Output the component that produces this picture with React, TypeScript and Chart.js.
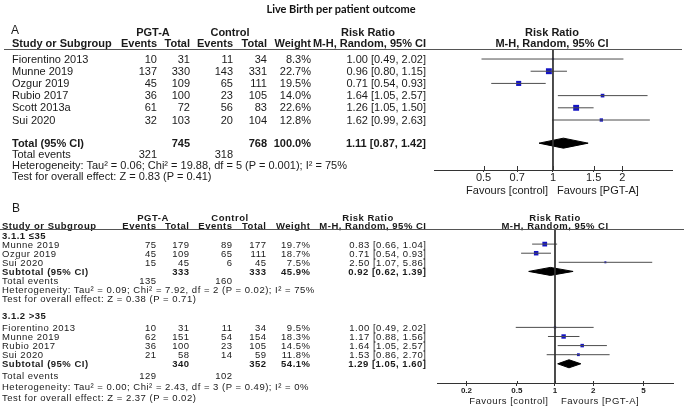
import React, { useEffect, useRef } from 'react';
import { Chart, registerables } from 'chart.js';
Chart.register(...registerables);

// ---------- data ----------
const title = 'Live Birth per patient outcome';

const studiesA = ['Fiorentino 2013', 'Munne 2019', 'Ozgur 2019', 'Rubio 2017', 'Scott 2013a', 'Sui 2020'];
const pgtEventsA = [10, 137, 45, 36, 61, 32];
const pgtTotalA = [31, 330, 109, 100, 72, 103];
const ctlEventsA = [11, 143, 65, 23, 56, 20];
const ctlTotalA = [34, 331, 111, 105, 83, 104];
const weightA = [8.3, 22.7, 19.5, 14.0, 22.6, 12.8];
const rrA = [1.0, 0.96, 0.71, 1.64, 1.26, 1.62];
const loA = [0.49, 0.8, 0.54, 1.05, 1.05, 0.99];
const hiA = [2.02, 1.15, 0.93, 2.57, 1.5, 2.63];
const pooledA = [1.11, 0.87, 1.42];
const totalsA = [745, 768];
const eventsA = [321, 318];
const hetA = 'Heterogeneity: Tau² = 0.06; Chi² = 19.88, df = 5 (P = 0.001); I² = 75%';
const testA = 'Test for overall effect: Z = 0.83 (P = 0.41)';
const ticksA = [0.5, 0.7, 1, 1.5, 2];

const groupB1 = '3.1.1 ≤35';
const studiesB1 = ['Munne 2019', 'Ozgur 2019', 'Sui 2020'];
const pgtEventsB1 = [75, 45, 15];
const pgtTotalB1 = [179, 109, 45];
const ctlEventsB1 = [89, 65, 6];
const ctlTotalB1 = [177, 111, 45];
const weightB1 = [19.7, 18.7, 7.5];
const rrB1 = [0.83, 0.71, 2.5];
const loB1 = [0.66, 0.54, 1.07];
const hiB1 = [1.04, 0.93, 5.86];
const pooledB1 = [0.92, 0.62, 1.39];
const totalsB1 = [333, 333];
const subWeightB1 = 45.9;
const eventsB1 = [135, 160];
const hetB1 = 'Heterogeneity: Tau² = 0.09; Chi² = 7.92, df = 2 (P = 0.02); I² = 75%';
const testB1 = 'Test for overall effect: Z = 0.38 (P = 0.71)';

const groupB2 = '3.1.2 >35';
const studiesB2 = ['Fiorentino 2013', 'Munne 2019', 'Rubio 2017', 'Sui 2020'];
const pgtEventsB2 = [10, 62, 36, 21];
const pgtTotalB2 = [31, 151, 100, 58];
const ctlEventsB2 = [11, 54, 23, 14];
const ctlTotalB2 = [34, 154, 105, 59];
const weightB2 = [9.5, 18.3, 14.5, 11.8];
const rrB2 = [1.0, 1.17, 1.64, 1.53];
const loB2 = [0.49, 0.88, 1.05, 0.86];
const hiB2 = [2.02, 1.56, 2.57, 2.7];
const pooledB2 = [1.29, 1.05, 1.6];
const totalsB2 = [340, 352];
const subWeightB2 = 54.1;
const eventsB2 = [129, 102];
const hetB2 = 'Heterogeneity: Tau² = 0.00; Chi² = 2.43, df = 3 (P = 0.49); I² = 0%';
const testB2 = 'Test for overall effect: Z = 2.37 (P = 0.02)';
const ticksB = [0.2, 0.5, 1, 2, 5];

// ---------- layout ----------
const W = 684;
const H = 408;
const SANS = '"Liberation Sans", Arial, Helvetica, sans-serif';

type F = { size: number; ls: number; lh: number };
const FA: F = { size: 11, ls: 0, lh: 11 };
const FB: F = { size: 9.5, ls: 0.5, lh: 9 };

const fmtRR = (r: number, l: number, h: number) => `${r.toFixed(2)} [${l.toFixed(2)}, ${h.toFixed(2)}]`;
const fmtW = (w: number) => `${w.toFixed(1)}%`;

// panel A geometry
const A_TOP = 50, A_BOT = 170, A_YMIN = -0.74, A_YMAX = 9.1, A_TOTAL = 6.9;
const pyA = (v: number) => A_TOP + ((v - A_YMIN) / (A_YMAX - A_YMIN)) * (A_BOT - A_TOP);
// panel B geometry
const B_TOP = 230, B_BOT = 383, B_YMIN = 0, B_YMAX = 16.81;
const pyB = (v: number) => B_TOP + ((v - B_YMIN) / (B_YMAX - B_YMIN)) * (B_BOT - B_TOP);
const rowsB1 = [1.55, 2.55, 3.55];
const subB1 = 4.55;
const rowsB2 = [10.7, 11.7, 12.7, 13.7];
const subB2 = 14.7;

function T(props: { x: number; y: number; t: string | number; a?: 'l' | 'r' | 'c'; b?: boolean; f?: F; fam?: string; size?: number; c?: string }) {
  const { x, y, t, a = 'l', b = false, f = FA, fam = SANS, c = '#1a1a1a' } = props;
  const size = props.size ?? f.size;
  const lh = f.lh;
  const s: React.CSSProperties = {
    position: 'absolute',
    top: y - lh / 2,
    height: lh,
    lineHeight: lh + 'px',
    fontSize: size,
    fontFamily: fam,
    fontWeight: b ? 700 : 400,
    letterSpacing: f.ls,
    whiteSpace: 'nowrap',
    color: c,
  };
  if (a === 'l') s.left = x;
  else if (a === 'r') s.right = W - x - f.ls;
  else {
    s.left = x;
    s.transform = 'translateX(-50%)';
  }
  return <div style={s}>{t}</div>;
}

type Row = { rr: number; lo: number; hi: number; w: number; y: number };
type Pool = { rr: number; lo: number; hi: number; y: number };

type FP = {
  top: number; height: number;
  pad: { left: number; right: number; top: number; bottom: number };
  xMin: number; xMax: number; yMin: number; yMax: number;
  ticks: number[]; tickFont: any; tickLen: number; tickUp: number; tickPad: number; axisH: number;
  rows: Row[]; pools: Pool[]; sq: number; dh: number;
};

function Forest(p: FP) {
  const ref = useRef<HTMLCanvasElement>(null);
  useEffect(() => {
    const ds: any[] = [];
    ds.push({
      data: [{ x: 1, y: p.yMin }, { x: 1, y: p.yMax }],
      showLine: true, borderColor: '#333', borderWidth: 1, pointRadius: 0,
    });
    p.rows.forEach((r) =>
      ds.push({
        data: [{ x: r.lo, y: r.y }, { x: r.hi, y: r.y }],
        showLine: true, borderColor: '#4d4d4d', borderWidth: 1, pointRadius: 0,
      })
    );
    ds.push({
      data: p.rows.map((r) => ({ x: r.rr, y: r.y })),
      showLine: false,
      pointStyle: 'rect',
      pointRadius: p.rows.map((r) => Math.max(2, r.w * p.sq) / Math.SQRT2),
      backgroundColor: '#1414c4',
      borderWidth: 0,
    });
    p.pools.forEach((q) =>
      ds.push({
        data: [
          { x: q.lo, y: q.y }, { x: q.rr, y: q.y - p.dh }, { x: q.hi, y: q.y },
          { x: q.rr, y: q.y + p.dh }, { x: q.lo, y: q.y },
        ],
        showLine: true, fill: 'shape', backgroundColor: '#000', borderColor: '#000',
        borderWidth: 1, pointRadius: 0, tension: 0,
      })
    );
    const upTicks = {
      id: 'upTicks',
      afterDraw(chart: any) {
        const s = chart.scales.x;
        const ctx = chart.ctx;
        ctx.save();
        ctx.strokeStyle = '#333';
        ctx.lineWidth = 1;
        ctx.beginPath();
        s.ticks.forEach((t: any) => {
          const px = Math.round(s.getPixelForValue(t.value)) + 0.5;
          ctx.moveTo(px, s.top - p.tickUp);
          ctx.lineTo(px, s.top);
        });
        ctx.stroke();
        ctx.restore();
      },
    };
    const chart = new Chart(ref.current as HTMLCanvasElement, {
      type: 'scatter',
      data: { datasets: ds },
      options: {
        animation: false,
        responsive: false,
        devicePixelRatio: 1,
        events: [],
        layout: { padding: p.pad },
        plugins: { legend: { display: false }, tooltip: { enabled: false } },
        scales: {
          x: {
            type: 'logarithmic',
            min: p.xMin,
            max: p.xMax,
            bounds: 'data',
            afterBuildTicks: (s: any) => {
              s.ticks = p.ticks.map((v) => ({ value: v }));
            },
            afterFit: (s: any) => {
              s.height = p.axisH;
            },
            grid: { drawOnChartArea: false, drawTicks: true, tickLength: p.tickLen, color: '#333', lineWidth: 1 },
            border: { display: true, color: '#333', width: 1 },
            ticks: {
              font: p.tickFont,
              color: '#1a1a1a',
              padding: p.tickPad,
              maxRotation: 0,
              autoSkip: false,
              callback: (v: any) => String(v),
            },
          },
          y: { type: 'linear', reverse: true, min: p.yMin, max: p.yMax, display: false },
        },
      } as any,
      plugins: [upTicks],
    });
    return () => chart.destroy();
  }, []);
  return (
    <canvas
      ref={ref}
      width={W}
      height={p.height}
      style={{ position: 'absolute', left: 0, top: p.top, width: W, height: p.height }}
    />
  );
}

const colA = { name: 12, pe: 157, pt: 190, ce: 233, ct: 267, w: 311, rr: 426, plot: 552 };
const colB = { name: 2, pe: 156, pt: 189, ce: 232, ct: 266, w: 310, rr: 426, plot: 555 };

function StudyRows(props: { names: string[]; pe: number[]; pt: number[]; ce: number[]; ct: number[]; w: number[]; rr: number[]; lo: number[]; hi: number[]; ys: number[]; col: typeof colA; f: F }) {
  const { names, pe, pt, ce, ct, w, rr, lo, hi, ys, col, f } = props;
  return (
    <>
      {names.map((n, i) => (
        <React.Fragment key={n + i}>
          <T x={col.name} y={ys[i]} t={n} f={f} />
          <T x={col.pe} y={ys[i]} t={pe[i]} a="r" f={f} />
          <T x={col.pt} y={ys[i]} t={pt[i]} a="r" f={f} />
          <T x={col.ce} y={ys[i]} t={ce[i]} a="r" f={f} />
          <T x={col.ct} y={ys[i]} t={ct[i]} a="r" f={f} />
          <T x={col.w} y={ys[i]} t={fmtW(w[i])} a="r" f={f} />
          <T x={col.rr} y={ys[i]} t={fmtRR(rr[i], lo[i], hi[i])} a="r" f={f} />
        </React.Fragment>
      ))}
    </>
  );
}

function Headers(props: { y1: number; y2: number; col: typeof colA; f: F }) {
  const { y1, y2, col, f } = props;
  return (
    <>
      <T x={153} y={y1} t="PGT-A" a="c" b f={f} />
      <T x={230} y={y1} t="Control" a="c" b f={f} />
      <T x={368} y={y1} t="Risk Ratio" a="c" b f={f} />
      <T x={col.plot} y={y1} t="Risk Ratio" a="c" b f={f} />
      <T x={col.name} y={y2} t="Study or Subgroup" b f={f} />
      <T x={col.pe} y={y2} t="Events" a="r" b f={f} />
      <T x={col.pt} y={y2} t="Total" a="r" b f={f} />
      <T x={col.ce} y={y2} t="Events" a="r" b f={f} />
      <T x={col.ct} y={y2} t="Total" a="r" b f={f} />
      <T x={col.w} y={y2} t="Weight" a="r" b f={f} />
      <T x={col.rr} y={y2} t="M-H, Random, 95% CI" a="r" b f={f} />
      <T x={col.plot} y={y2} t="M-H, Random, 95% CI" a="c" b f={f} />
    </>
  );
}

export default function App() {
  const rowsAData: Row[] = rrA.map((r, i) => ({ rr: r, lo: loA[i], hi: hiA[i], w: weightA[i], y: i }));
  const rowsBData: Row[] = [
    ...rrB1.map((r, i) => ({ rr: r, lo: loB1[i], hi: hiB1[i], w: weightB1[i], y: rowsB1[i] })),
    ...rrB2.map((r, i) => ({ rr: r, lo: loB2[i], hi: hiB2[i], w: weightB2[i], y: rowsB2[i] })),
  ];
  const poolsA: Pool[] = [{ rr: pooledA[0], lo: pooledA[1], hi: pooledA[2], y: A_TOTAL }];
  const poolsB: Pool[] = [
    { rr: pooledB1[0], lo: pooledB1[1], hi: pooledB1[2], y: subB1 },
    { rr: pooledB2[0], lo: pooledB2[1], hi: pooledB2[2], y: subB2 },
  ];
  const ysA = studiesA.map((_, i) => pyA(i));
  const yTotA = pyA(A_TOTAL);
  const ysB1 = rowsB1.map(pyB);
  const ysB2 = rowsB2.map(pyB);
  const ySub1 = pyB(subB1);
  const ySub2 = pyB(subB2);

  return (
    <div style={{ position: 'absolute', left: 0, top: 0, width: W, height: H, background: '#fff', overflow: 'hidden' }}>
      <Forest
        top={0} height={200}
        pad={{ left: 434, right: 12, top: A_TOP, bottom: 200 - A_BOT - 20 }}
        xMin={0.305} xMax={3.28} yMin={A_YMIN} yMax={A_YMAX}
        ticks={ticksA} tickFont={{ family: SANS, size: 11 }} tickLen={2} tickUp={4} tickPad={-1} axisH={20}
        rows={rowsAData} pools={poolsA} sq={0.26} dh={0.41}
      />
      <Forest
        top={200} height={208}
        pad={{ left: 437, right: 11, top: B_TOP - 200, bottom: 408 - B_BOT - 16 }}
        xMin={0.117} xMax={8.55} yMin={B_YMIN} yMax={B_YMAX}
        ticks={ticksB} tickFont={{ family: SANS, size: 8, weight: 'bold' }} tickLen={3} tickUp={2} tickPad={0} axisH={16}
        rows={rowsBData} pools={poolsB} sq={0.24} dh={0.44}
      />

      {/* Title */}
      <T x={341} y={8} t={title} a="c" b fam='Lato, "Open Sans", sans-serif' size={11} f={{ size: 11, ls: 0, lh: 13 }} c="#111" />

      {/* Panel A */}
      <T x={11} y={30} t="A" size={12} f={{ size: 12, ls: 0, lh: 12 }} />
      <Headers y1={32} y2={43} col={colA} f={FA} />
      <div style={{ position: 'absolute', left: 4, top: 49, width: 678, height: 0, borderTop: '1px solid #555' }} />
      <StudyRows names={studiesA} pe={pgtEventsA} pt={pgtTotalA} ce={ctlEventsA} ct={ctlTotalA} w={weightA} rr={rrA} lo={loA} hi={hiA} ys={ysA} col={colA} f={FA} />
      <T x={colA.name} y={yTotA} t="Total (95% CI)" b />
      <T x={colA.pt} y={yTotA} t={totalsA[0]} a="r" b />
      <T x={colA.ct} y={yTotA} t={totalsA[1]} a="r" b />
      <T x={colA.w} y={yTotA} t="100.0%" a="r" b />
      <T x={colA.rr} y={yTotA} t={fmtRR(pooledA[0], pooledA[1], pooledA[2])} a="r" b />
      <T x={colA.name} y={154} t="Total events" />
      <T x={colA.pe} y={154} t={eventsA[0]} a="r" />
      <T x={colA.ce} y={154} t={eventsA[1]} a="r" />
      <T x={colA.name} y={165} t={hetA} />
      <T x={colA.name} y={176} t={testA} />
      <T x={548} y={190} t="Favours [control]" a="r" />
      <T x={557} y={190} t="Favours [PGT-A]" />

      {/* Panel B */}
      <T x={12} y={208} t="B" size={12} f={{ size: 12, ls: 0, lh: 12 }} />
      <Headers y1={217} y2={225.5} col={colB} f={FB} />
      <div style={{ position: 'absolute', left: 0, top: 229, width: 684, height: 0, borderTop: '1px solid #555' }} />
      <T x={colB.name} y={235.5} t={groupB1} b f={FB} />
      <StudyRows names={studiesB1} pe={pgtEventsB1} pt={pgtTotalB1} ce={ctlEventsB1} ct={ctlTotalB1} w={weightB1} rr={rrB1} lo={loB1} hi={hiB1} ys={ysB1} col={colB} f={FB} />
      <T x={colB.name} y={ySub1} t="Subtotal (95% CI)" b f={FB} />
      <T x={colB.pt} y={ySub1} t={totalsB1[0]} a="r" b f={FB} />
      <T x={colB.ct} y={ySub1} t={totalsB1[1]} a="r" b f={FB} />
      <T x={colB.w} y={ySub1} t={fmtW(subWeightB1)} a="r" b f={FB} />
      <T x={colB.rr} y={ySub1} t={fmtRR(pooledB1[0], pooledB1[1], pooledB1[2])} a="r" b f={FB} />
      <T x={colB.name} y={280.5} t="Total events" f={FB} />
      <T x={colB.pe} y={280.5} t={eventsB1[0]} a="r" f={FB} />
      <T x={colB.ce} y={280.5} t={eventsB1[1]} a="r" f={FB} />
      <T x={colB.name} y={289.5} t={hetB1} f={FB} />
      <T x={colB.name} y={298.5} t={testB1} f={FB} />

      <T x={colB.name} y={315.5} t={groupB2} b f={FB} />
      <StudyRows names={studiesB2} pe={pgtEventsB2} pt={pgtTotalB2} ce={ctlEventsB2} ct={ctlTotalB2} w={weightB2} rr={rrB2} lo={loB2} hi={hiB2} ys={ysB2} col={colB} f={FB} />
      <T x={colB.name} y={ySub2} t="Subtotal (95% CI)" b f={FB} />
      <T x={colB.pt} y={ySub2} t={totalsB2[0]} a="r" b f={FB} />
      <T x={colB.ct} y={ySub2} t={totalsB2[1]} a="r" b f={FB} />
      <T x={colB.w} y={ySub2} t={fmtW(subWeightB2)} a="r" b f={FB} />
      <T x={colB.rr} y={ySub2} t={fmtRR(pooledB2[0], pooledB2[1], pooledB2[2])} a="r" b f={FB} />
      <T x={colB.name} y={375} t="Total events" f={FB} />
      <T x={colB.pe} y={375} t={eventsB2[0]} a="r" f={FB} />
      <T x={colB.ce} y={375} t={eventsB2[1]} a="r" f={FB} />
      <T x={colB.name} y={386} t={hetB2} f={FB} />
      <T x={colB.name} y={397} t={testB2} f={FB} />
      <T x={548} y={400} t="Favours [control]" a="r" f={FB} />
      <T x={561} y={400} t="Favours [PGT-A]" f={FB} />
    </div>
  );
}
